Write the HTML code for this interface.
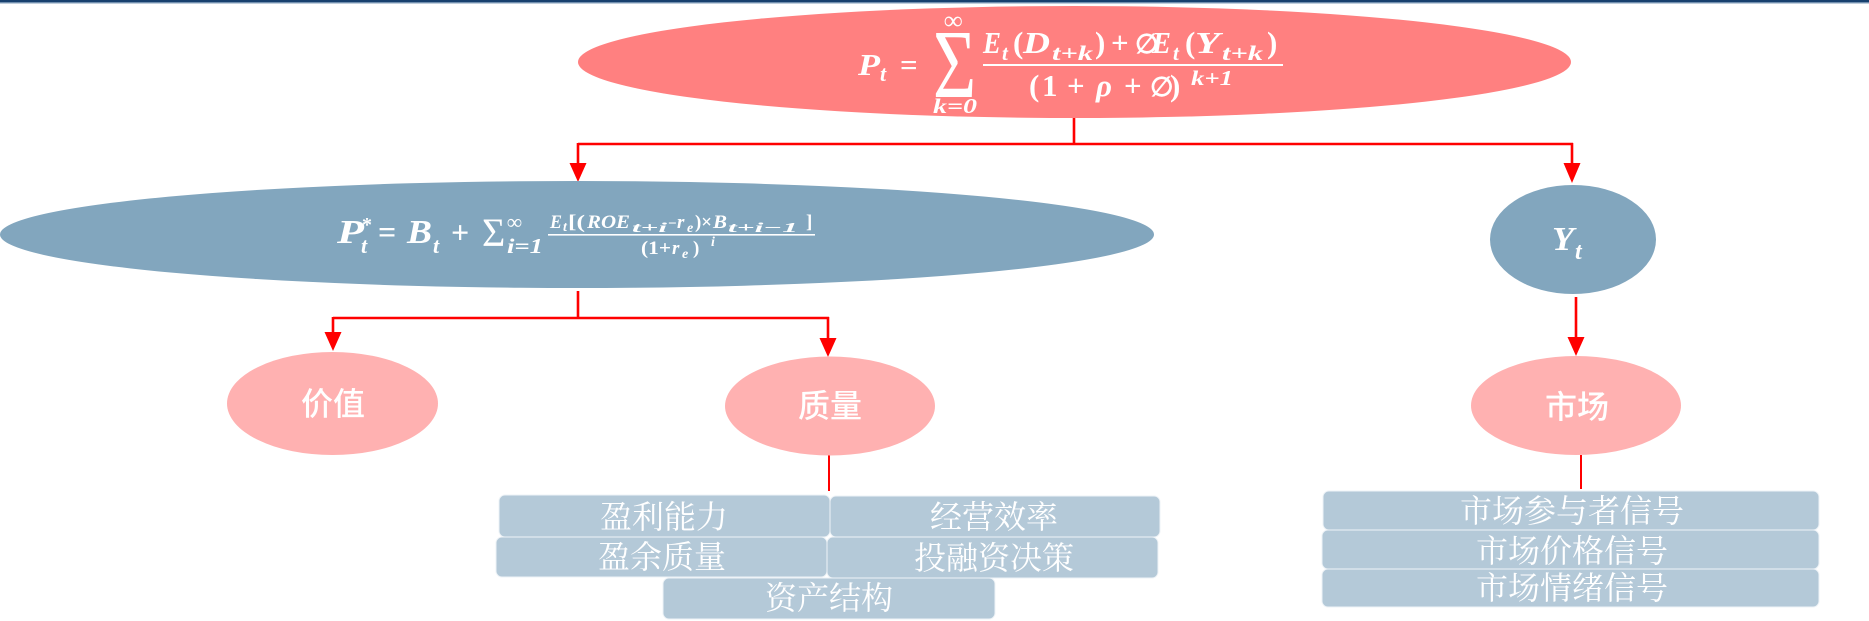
<!DOCTYPE html>
<html><head><meta charset="utf-8"><style>
html,body{margin:0;padding:0;background:#fff;}
svg{display:block;}
.m{font-family:"Liberation Serif","DejaVu Serif",serif;font-weight:bold;font-style:italic;fill:#fff;}
.u{font-family:"Liberation Serif","DejaVu Serif",serif;font-weight:bold;font-style:normal;fill:#fff;}
.cj{font-family:"Liberation Sans","Noto Sans CJK SC",sans-serif;font-weight:500;fill:#fff;font-size:32px;}
.bx{font-family:"Liberation Serif","Noto Serif CJK SC",serif;font-weight:normal;fill:#fff;font-size:32px;}
</style></head><body>
<svg width="1869" height="621" viewBox="0 0 1869 621" xmlns="http://www.w3.org/2000/svg">
<rect x="0" y="0" width="1869" height="621" fill="#fff"/>
<rect x="0" y="0" width="1869" height="2.2" fill="#17406e"/>
<rect x="0" y="2.2" width="1869" height="1.2" fill="#6486a8"/>

<!-- connectors -->
<g stroke="#ff0000" stroke-width="2.6" fill="none">
<line x1="1074" y1="118" x2="1074" y2="144"/>
<line x1="578" y1="144" x2="1573" y2="144"/>
<line x1="578" y1="143" x2="578" y2="165"/>
<line x1="1572" y1="143" x2="1572" y2="165"/>
<line x1="578" y1="291" x2="578" y2="318"/>
<line x1="333" y1="318" x2="829" y2="318"/>
<line x1="333" y1="317" x2="333" y2="334"/>
<line x1="828" y1="317" x2="828" y2="340"/>
<line x1="1576" y1="297" x2="1576" y2="340"/>
</g>
<g stroke="#ff0000" stroke-width="2" fill="none">
<line x1="829" y1="455" x2="829" y2="491"/>
<line x1="1581" y1="455" x2="1581" y2="489"/>
</g>
<g fill="#ff0000">
<polygon points="569.5,163 586.5,163 578,182"/>
<polygon points="1563.5,163 1580.5,163 1572,183"/>
<polygon points="324.5,332 341.5,332 333,351"/>
<polygon points="819.5,338 836.5,338 828,357"/>
<polygon points="1567.5,337 1584.5,337 1576,356"/>
</g>

<!-- top ellipse -->
<ellipse cx="1074.5" cy="62" rx="496.5" ry="56" fill="#ff8080"/>
<!-- blue ellipse -->
<ellipse cx="577" cy="234.5" rx="577" ry="53.5" fill="#82a6be"/>
<!-- Yt -->
<ellipse cx="1573" cy="239.5" rx="83" ry="54.5" fill="#82a6be"/>
<!-- pink nodes -->
<ellipse cx="332.5" cy="403.5" rx="105.5" ry="51.5" fill="#ffb1b1"/>
<ellipse cx="830" cy="406" rx="105" ry="49.5" fill="#ffb1b1"/>
<ellipse cx="1576" cy="405.5" rx="105" ry="49.5" fill="#ffb1b1"/>

<!-- boxes -->
<g fill="#b4c9d8" stroke="#eef3f7" stroke-width="1">
<rect x="499" y="495" width="331" height="42" rx="6"/>
<rect x="830" y="496" width="330" height="41" rx="6"/>
<rect x="496" y="537" width="331" height="40" rx="6"/>
<rect x="827" y="537" width="331" height="41" rx="6"/>
<rect x="663" y="578" width="332" height="41" rx="6"/>
<rect x="1323" y="491" width="496" height="39" rx="6"/>
<rect x="1322" y="530" width="497" height="39" rx="6"/>
<rect x="1322" y="569" width="497" height="38" rx="6"/>
</g>

<!-- top formula -->
<text class="m" x="858" y="75" font-size="31" textLength="22" lengthAdjust="spacingAndGlyphs">P</text>
<text class="m" x="880" y="81" font-size="22">t</text>
<text class="u" x="900" y="75" font-size="31">=</text>
<text class="u" font-size="70" transform="translate(933,97) scale(1.06,1.39)" style="font-weight:normal">Σ</text>
<text class="u" x="944" y="29" font-size="26">∞</text>
<text class="m" x="933" y="113" font-size="21" textLength="44" lengthAdjust="spacingAndGlyphs">k=0</text>

<text class="m" x="983" y="53" font-size="31" textLength="18" lengthAdjust="spacingAndGlyphs">E</text>
<text class="m" x="1002" y="60" font-size="21">t</text>
<text class="u" x="1013" y="53" font-size="31">(</text>
<text class="m" x="1023" y="53" font-size="31" textLength="27" lengthAdjust="spacingAndGlyphs">D</text>
<text class="m" x="1052" y="60" font-size="21" textLength="41" lengthAdjust="spacingAndGlyphs">t+k</text>
<text class="u" x="1095" y="53" font-size="31">)</text>
<text class="u" x="1111" y="53" font-size="31">+</text>
<text class="u" x="1135" y="53" font-size="27">∅</text>
<text class="m" x="1152" y="53" font-size="31" textLength="19" lengthAdjust="spacingAndGlyphs">E</text>
<text class="m" x="1173" y="60" font-size="21">t</text>
<text class="u" x="1185" y="53" font-size="31">(</text>
<text class="m" x="1195" y="53" font-size="31" textLength="25" lengthAdjust="spacingAndGlyphs">Y</text>
<text class="m" x="1222" y="60" font-size="21" textLength="41" lengthAdjust="spacingAndGlyphs">t+k</text>
<text class="u" x="1267" y="53" font-size="31">)</text>
<rect x="983" y="64" width="300" height="2" fill="#fff"/>
<text class="u" x="1029" y="96" font-size="31">(</text>
<text class="u" x="1042" y="96" font-size="31">1</text>
<text class="u" x="1067" y="96" font-size="31">+</text>
<text class="m" x="1096" y="96" font-size="31">ρ</text>
<text class="u" x="1124" y="96" font-size="31">+</text>
<text class="u" x="1150" y="96" font-size="27">∅</text>
<text class="u" x="1170" y="96" font-size="31">)</text>
<text class="m" x="1191" y="85" font-size="21" textLength="42" lengthAdjust="spacingAndGlyphs">k+1</text>

<!-- blue formula -->
<text class="m" x="337" y="243" font-size="34" textLength="27" lengthAdjust="spacingAndGlyphs">P</text>
<text class="u" x="362" y="231" font-size="20">*</text>
<text class="m" x="361" y="253" font-size="22">t</text>
<text class="u" x="378" y="243" font-size="32">=</text>
<text class="m" x="407" y="243" font-size="34" textLength="25" lengthAdjust="spacingAndGlyphs">B</text>
<text class="m" x="433" y="253" font-size="22">t</text>
<text class="u" x="451" y="243" font-size="32">+</text>
<text class="u" x="482" y="246" font-size="40" style="font-weight:normal">Σ</text>
<text class="u" x="507" y="229" font-size="21">∞</text>
<text class="m" x="507" y="253" font-size="21" textLength="36" lengthAdjust="spacingAndGlyphs">i=1</text>
<rect x="548" y="234" width="267" height="1.6" fill="#fff"/>
<text class="m" x="550" y="228" font-size="19" textLength="12" lengthAdjust="spacingAndGlyphs">E</text>
<text class="m" x="563" y="231" font-size="14">t</text>
<text class="u" x="568" y="228" font-size="19" textLength="17" lengthAdjust="spacingAndGlyphs">[(</text>
<text class="m" x="587" y="228" font-size="19" textLength="43" lengthAdjust="spacingAndGlyphs">ROE</text>
<text class="m" x="632" y="232" font-size="14" textLength="35" lengthAdjust="spacingAndGlyphs">t+i</text>
<text class="u" x="668" y="228" font-size="15">−</text>
<text class="m" x="677" y="228" font-size="19">r</text>
<text class="m" x="687" y="232" font-size="14">e</text>
<text class="u" x="695" y="228" font-size="19" textLength="17" lengthAdjust="spacingAndGlyphs">)×</text>
<text class="m" x="713" y="228" font-size="19" textLength="14" lengthAdjust="spacingAndGlyphs">B</text>
<text class="m" x="728" y="232" font-size="14" textLength="70" lengthAdjust="spacingAndGlyphs">t+i−1</text>
<text class="u" x="806" y="228" font-size="19">]</text>
<text class="u" x="641" y="254" font-size="19" textLength="30" lengthAdjust="spacingAndGlyphs">(1+</text>
<text class="m" x="672" y="254" font-size="19">r</text>
<text class="m" x="682" y="258" font-size="14">e</text>
<text class="u" x="693" y="254" font-size="19">)</text>
<text class="m" x="711" y="246" font-size="14">i</text>

<!-- Yt -->
<text class="m" x="1552" y="250" font-size="34" textLength="22" lengthAdjust="spacingAndGlyphs">Y</text>
<text class="m" x="1575" y="259" font-size="24">t</text>

<!-- node labels -->
<text class="cj" x="333" y="404" text-anchor="middle" dominant-baseline="central">价值</text>
<text class="cj" x="830" y="406" text-anchor="middle" dominant-baseline="central">质量</text>
<text class="cj" x="1577" y="407" text-anchor="middle" dominant-baseline="central">市场</text>

<!-- box labels -->
<text class="bx" x="664" y="517" text-anchor="middle" dominant-baseline="central">盈利能力</text>
<text class="bx" x="994" y="517" text-anchor="middle" dominant-baseline="central">经营效率</text>
<text class="bx" x="662" y="557" text-anchor="middle" dominant-baseline="central">盈余质量</text>
<text class="bx" x="994" y="558" text-anchor="middle" dominant-baseline="central">投融资决策</text>
<text class="bx" x="829" y="598" text-anchor="middle" dominant-baseline="central">资产结构</text>
<text class="bx" x="1572" y="511" text-anchor="middle" dominant-baseline="central">市场参与者信号</text>
<text class="bx" x="1572" y="551" text-anchor="middle" dominant-baseline="central">市场价格信号</text>
<text class="bx" x="1572" y="588" text-anchor="middle" dominant-baseline="central">市场情绪信号</text>
</svg>
</body></html>
